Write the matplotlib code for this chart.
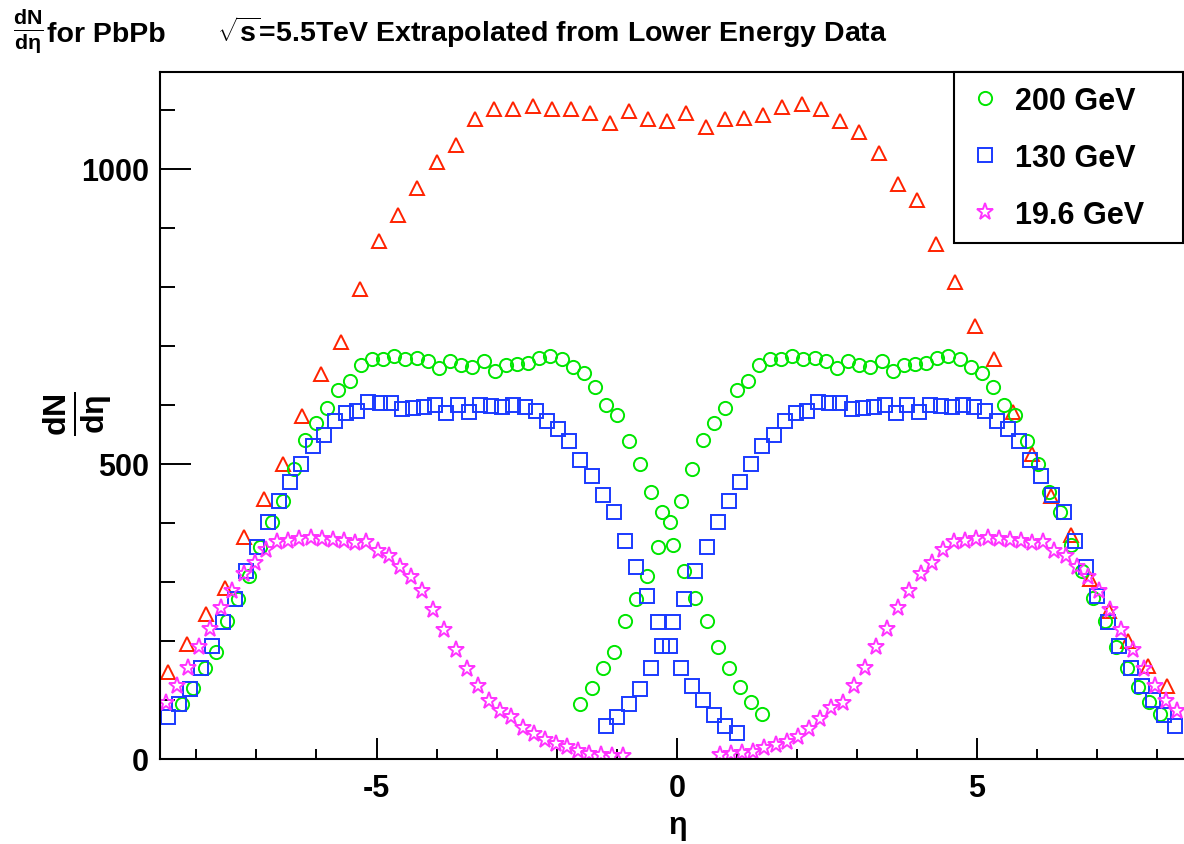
import numpy as np
import matplotlib
matplotlib.use('Agg')
import matplotlib.pyplot as plt
from matplotlib.ticker import MultipleLocator

plt.rcParams['font.family'] = ['Liberation Sans', 'DejaVu Sans']
plt.rcParams['font.weight'] = 'bold'
plt.rcParams['mathtext.fontset'] = 'custom'
plt.rcParams['mathtext.rm'] = 'Liberation Sans:bold'
plt.rcParams['mathtext.it'] = 'Liberation Sans:bold'
plt.rcParams['mathtext.bf'] = 'Liberation Sans:bold'
plt.rcParams['axes.unicode_minus'] = False

# lower energy dN/deta, same eta bins for all three energies
eta_bins = np.linspace(-4.92, 4.74, 53)
sqrt_s = [200, 130, 19.6]
labels = ['200 GeV', '130 GeV', '19.6 GeV']
dndeta_200 = [93, 120, 154, 181, 233, 271, 310, 359, 402, 437,
              492, 540, 569, 595, 625, 641, 668, 678, 677, 683,
              678, 679, 674, 662, 674, 668, 665, 674, 658, 667,
              670, 671, 679, 683, 678, 664, 654, 631, 600, 583,
              538, 499, 452, 418, 363, 318, 272, 234, 190, 154, 122, 97, 76]
dndeta_130 = [56, 72, 94, 118, 155, 192, 232, 271, 318, 359,
              402, 437, 469, 500, 530, 549, 573, 586, 590, 605,
              603, 603, 593, 594, 596, 600, 586, 600, 588, 599,
              598, 596, 600, 596, 589, 572, 559, 538, 506, 479,
              448, 419, 369, 326, 277, 232, 191, 155, 123, 100, 75, 56, 44]
dndeta_19 = [6, 8, 10, 12, 18, 23, 29, 37, 51, 67, 86,
             95, 123, 155, 189, 220, 255, 284, 314, 332, 354,
             367, 370, 373, 374, 373, 371, 370, 366, 367, 353,
             344, 326, 308, 285, 253, 219, 185, 153, 123, 99,
             81, 71, 52, 42, 33, 25, 20, 14, 9, 6, 5, 5]

# extrapolated 5.5 TeV points
eta_55 = np.linspace(-8.48, 8.16, 53)
dndeta_55 = [148, 195, 246, 290, 376, 441, 500, 582, 653, 707,
             797, 877, 922, 967, 1012, 1041, 1084, 1102, 1102, 1107,
             1102, 1102, 1094, 1077, 1098, 1085, 1081, 1094, 1071, 1084,
             1086, 1091, 1104, 1109, 1102, 1081, 1063, 1026, 975, 947,
             873, 809, 734, 678, 588, 517, 446, 380, 305, 251, 200, 158, 124]

xmin, xmax = -8.606, 8.447
ymin, ymax = 0, 1164

fig = plt.figure(figsize=(11.84, 8.45), dpi=100)
ax = fig.add_axes([160/1184, 85/845, 1024/1184, 687/845])

ax.plot(eta_55, dndeta_55, ls='none', marker='^', ms=10.5, mfc='none',
        mec='#ff2200', mew=1.4)

styles = [('o', '#00e600', 9.5), ('s', '#1a3aff', 9.5), ('*', '#ff33ff', 12.5)]
handles = []
for e, vals, lab, (mk, col, ms) in zip(sqrt_s, [dndeta_200, dndeta_130, dndeta_19], labels, styles):
    shift = np.log(5500.0 / e)  # shift by the beam rapidity difference
    vals = np.array(vals)
    for x in (eta_bins - shift, eta_bins + shift):
        keep = (x >= xmin) & (x <= xmax)
        h, = ax.plot(x[keep], vals[keep], ls='none', marker=mk, ms=ms, mfc='none',
                     mec=col, mew=1.4, label=lab)
    handles.append(h)

ax.set_xlim(xmin, xmax)
ax.set_ylim(ymin, ymax)
ax.xaxis.set_major_locator(MultipleLocator(5))
ax.xaxis.set_minor_locator(MultipleLocator(1))
ax.yaxis.set_major_locator(MultipleLocator(500))
ax.yaxis.set_minor_locator(MultipleLocator(100))
ax.tick_params(axis='x', which='major', direction='in', length=15, width=1.4,
               labelsize=22, pad=10, top=False)
ax.tick_params(axis='x', which='minor', direction='in', length=7.5, width=1.4, top=False)
ax.tick_params(axis='y', which='major', direction='in', length=22, width=1.4,
               labelsize=22, pad=8, right=False)
ax.tick_params(axis='y', which='minor', direction='in', length=11, width=1.4, right=False)
for lab in ax.get_xticklabels() + ax.get_yticklabels():
    lab.set_fontweight('bold')
for s in ['left', 'bottom', 'top']:
    ax.spines[s].set_linewidth(1.5)
ax.spines['right'].set_visible(False)

leg = ax.legend(handles=handles, loc='upper left',
                bbox_to_anchor=(954/1184, 1 - 73/845 - 0.01, 229/1184, 0.01),
                bbox_transform=fig.transFigure, mode='expand',
                fontsize=22, frameon=True, fancybox=False, framealpha=1,
                edgecolor='black', borderpad=0.45, labelspacing=0.88,
                handlelength=1.15, handletextpad=0.4, borderaxespad=0)
leg.get_frame().set_linewidth(1.5)

# titles
fig.text(13/1184, 1 - 31/845, r'$\frac{dN}{d\eta}$', fontsize=22, va='center', ha='left')
fig.text(47/1184, 1 - 42/845, 'for PbPb', fontsize=20.5, va='baseline', ha='left')
fig.text(217/1184, 1 - 42/845, r'$\sqrt{s}$=5.5TeV Extrapolated from Lower Energy Data',
         fontsize=20.5, va='baseline', ha='left')
fig.text(78/1184, 1 - 414/845, r'$\frac{dN}{d\eta}$', fontsize=33, rotation=90,
         va='center', ha='center')
fig.text(677/1184, 1 - 828/845, r'$\eta$', fontsize=22, va='center', ha='center')

fig.savefig('out.png', dpi=100)
